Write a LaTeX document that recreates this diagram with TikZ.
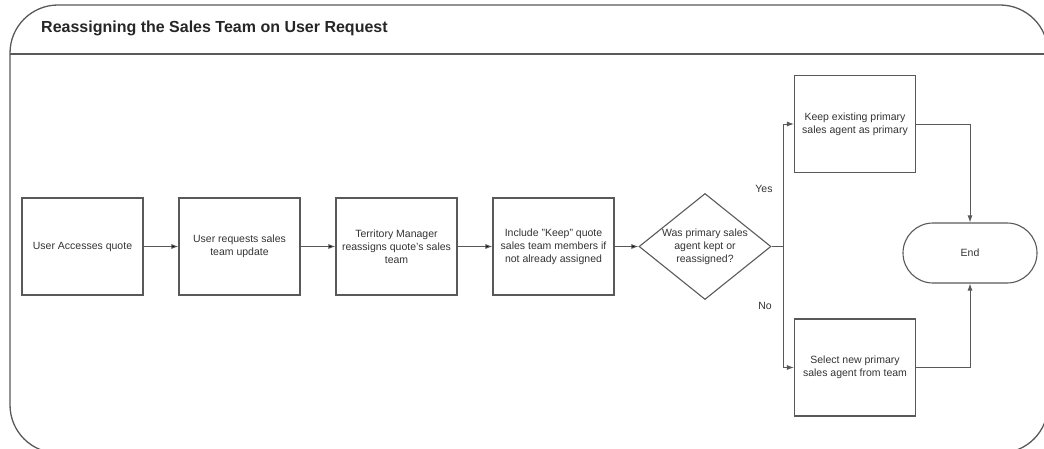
\documentclass[tikz,border=0pt]{standalone}
\usepackage{fontspec}
\setmainfont{Liberation Sans}
\usetikzlibrary{shapes.geometric,arrows.meta,positioning}
\definecolor{linegray}{HTML}{595959}
\definecolor{textgray}{HTML}{333333}
\begin{document}
\begin{tikzpicture}[x=1pt, y=-1pt, node distance={157pt}, >={Latex[length=7pt,width=5pt]},
	main/.style = {draw=linegray, line width=1.1pt, rectangle, minimum width=121pt, minimum height=97pt, align=center, text=textgray, font=\fontsize{10.5}{13}\selectfont},
	decision/.style = {main, diamond, aspect=1.25, minimum width=132pt, minimum height=106pt, inner sep=-4pt},
	terminal/.style = {main, rounded corners=30pt, minimum width=134pt, minimum height=60pt},
	flow/.style = {->, draw=linegray, line width=0.9pt},
	answer/.style = {text=textgray, font=\fontsize{10.5}{13}\selectfont}]
		\useasboundingbox (0,0) rectangle (1044,449);
		% frame and header
		\begin{scope}
			\clip (0,0) rectangle (1044,449);
			\draw[linegray, line width=1.3pt, rounded corners=48pt] (10,5) rectangle (1048,453);
			\draw[linegray, line width=1.3pt] (10,54) -- (1048,54);
		\end{scope}
		\node[anchor=west, inner sep=0pt, text=black!85, font=\bfseries\fontsize{16}{18}\selectfont] (title) at (41,28) {Reassigning the Sales Team on User Request};
		% main line
		\node[main] (1) at (82.5,246.5) {User Accesses quote};
		\node[main] (2) [right of=1] {User requests sales\\team update};
		\node[main] (3) [right of=2] {Territory Manager\\reassigns quote's sales\\team};
		\node[main] (4) [right of=3] {Include "Keep" quote\\sales team members if\\not already assigned};
		\node[decision] (5) [right of=4, node distance=151.5pt] {Was primary sales\\agent kept or\\reassigned?};
		% outcomes
		\node[main] (6) at (855,124) {Keep existing primary\\sales agent as primary};
		\node[main] (7) at (855,367.5) {Select new primary\\sales agent from team};
		\node[terminal] (8) at (970,253) {End};
		\coordinate[right=12pt of 5.east] (fork);
		\node[answer] (yes) at (764,189) {Yes};
		\node[answer] (no) at (765,306) {No};
		\path[flow]
			(1) edge (2) (2) edge (3)
			(3) edge (4) (4) edge (5);
		\draw[linegray, line width=0.9pt] (5.east) -- (fork);
		\draw[flow] (fork) |- (6.west);
		\draw[flow] (fork) |- (7.west);
		\draw[flow] (6.east) -| (8.north);
		\draw[flow] (7.east) -| (8.south);
	\end{tikzpicture}
\end{document}
